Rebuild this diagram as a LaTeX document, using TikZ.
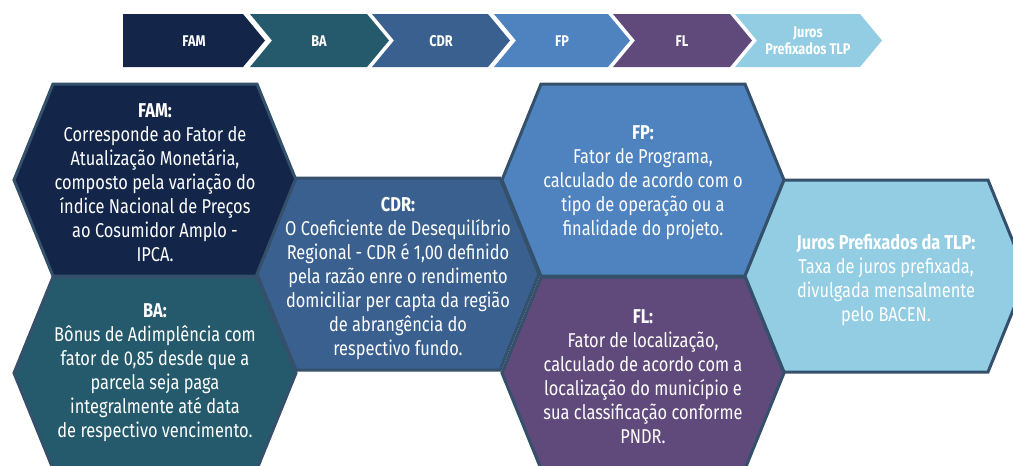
\documentclass[tikz,border=0pt]{standalone}
\usepackage{fontspec}
\setmainfont{Fira Sans}[FakeStretch=0.82]
\definecolor{famcol}{HTML}{13264A}
\definecolor{bacol}{HTML}{245A6B}
\definecolor{cdrcol}{HTML}{3A6090}
\definecolor{fpcol}{HTML}{4F83C0}
\definecolor{flcol}{HTML}{604A7B}
\definecolor{jurcol}{HTML}{92CDE3}
\definecolor{rimcol}{HTML}{34506B}

\begin{document}
\begin{tikzpicture}[x=1pt,y=-1pt,
  hex/.style={draw=rimcol,line width=3pt,line join=miter},
  tag/.style={text=white,font=\fontsize{15.5}{17.5}\selectfont\bfseries,align=center},
  info/.style={text=white,font=\fontsize{20}{24}\selectfont,align=center}]

  \useasboundingbox (0,0) rectangle (1013,466);

  % chevrons
  \fill[famcol] (123,14) -- (243,14) -- (265,40.5) -- (243,67) -- (123,67) -- cycle;
  \fill[bacol] (250,14) -- (367,14) -- (389,40.5) -- (367,67) -- (250,67) -- (272,40.5) -- cycle;
  \fill[cdrcol] (372,14) -- (488,14) -- (510,40.5) -- (488,67) -- (372,67) -- (394,40.5) -- cycle;
  \fill[fpcol] (494,14) -- (608,14) -- (630,40.5) -- (608,67) -- (494,67) -- (516,40.5) -- cycle;
  \fill[flcol] (613,14) -- (730,14) -- (752,40.5) -- (730,67) -- (613,67) -- (635,40.5) -- cycle;
  \fill[jurcol] (735,14) -- (860,14) -- (882,40.5) -- (860,67) -- (735,67) -- (757,40.5) -- cycle;

  \node[tag] (t1) at (194,41) {FAM};
  \node[tag] (t2) at (319,41) {BA};
  \node[tag] (t3) at (441,41) {CDR};
  \node[tag] (t4) at (562,41) {FP};
  \node[tag] (t5) at (682,41) {FL};
  \node[tag] (t6) at (808,41) {Juros\\Prefixados TLP};

  % hexagons
  \filldraw[hex,fill=famcol,shift={(155,180)}] (-141,0) -- (-102,-96) -- (102,-96) -- (141,0) -- (102,96) -- (-102,96) -- cycle;
  \filldraw[hex,fill=bacol,shift={(155,373)}] (-141,0) -- (-102,-96) -- (102,-96) -- (141,0) -- (102,96) -- (-102,96) -- cycle;
  \filldraw[hex,fill=cdrcol,shift={(398,274)}] (-141,0) -- (-102,-96) -- (102,-96) -- (141,0) -- (102,96) -- (-102,96) -- cycle;
  \filldraw[hex,fill=fpcol,shift={(643,180)}] (-141,0) -- (-102,-96) -- (102,-96) -- (141,0) -- (102,96) -- (-102,96) -- cycle;
  \filldraw[hex,fill=flcol,shift={(643,373)}] (-141,0) -- (-102,-96) -- (102,-96) -- (141,0) -- (102,96) -- (-102,96) -- cycle;
  \filldraw[hex,fill=jurcol,shift={(886,276)}] (-141,0) -- (-102,-96) -- (102,-96) -- (141,0) -- (102,96) -- (-102,96) -- cycle;

  \node[info] (fam) at (155,183) {\textbf{FAM:}\\Corresponde ao Fator de\\Atualização Monetária,\\composto pela variação do\\índice Nacional de Preços\\ao Cosumidor Amplo -\\IPCA.};
  \node[info] (ba) at (155,373) {\textbf{BA:}\\Bônus de Adimplência com\\fator de 0,85 desde que a\\parcela seja paga\\integralmente até data\\de respectivo vencimento.};
  \node[info] (cdr) at (398,279) {\textbf{CDR:}\\O Coeficiente de Desequilíbrio\\Regional - CDR é 1,00 definido\\pela razão enre o rendimento\\domiciliar per capta da região\\de abrangência do\\respectivo fundo.};
  \node[info] (fp) at (643,183) {\textbf{FP:}\\Fator de Programa,\\calculado de acordo com o\\tipo de operação ou a\\finalidade do projeto.};
  \node[info] (fl) at (643,377) {\textbf{FL:}\\Fator de localização,\\calculado de acordo com a\\localização do município e\\sua classificação conforme\\PNDR.};
  \node[info] (jur) at (886,280) {\textbf{Juros Prefixados da TLP:}\\Taxa de juros prefixada,\\divulgada mensalmente\\pelo BACEN.};
\end{tikzpicture}
\end{document}
